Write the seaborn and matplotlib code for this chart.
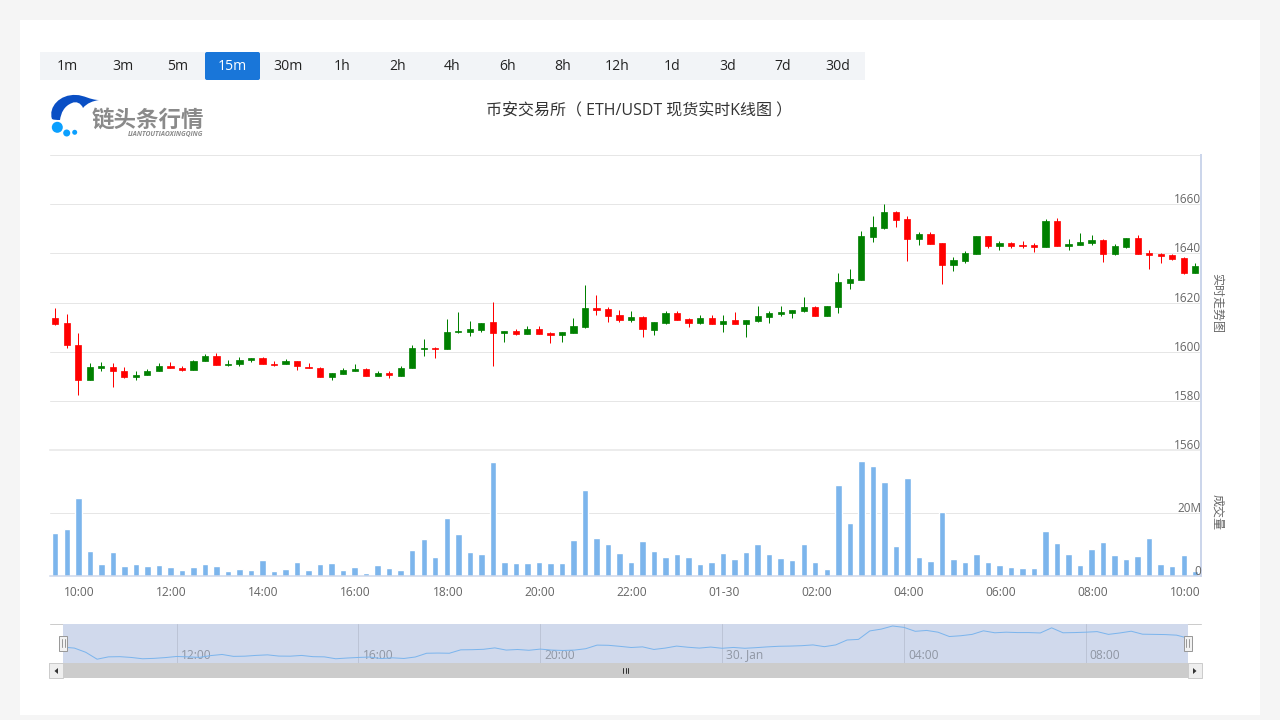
import numpy as np
import pandas as pd
import matplotlib
matplotlib.use('Agg')
import matplotlib.pyplot as plt
from matplotlib.patches import Rectangle, FancyBboxPatch, Circle, PathPatch, Polygon
from matplotlib.path import Path
from matplotlib.transforms import ScaledTranslation
import seaborn as sns

# Interval buttons
intervals = ['1m', '3m', '5m', '15m', '30m', '1h', '2h', '4h', '6h', '8h', '12h', '1d', '3d', '7d', '30d']
active_interval = '15m'

# Candles, 15 min apart
opens = [1613.6, 1611.6, 1603, 1588.8, 1593.6, 1594, 1592.4, 1589.7, 1590.5, 1592.1,
         1594.4, 1593.6, 1592.5, 1596.2, 1598.5, 1594.6, 1595, 1596.6, 1597.7, 1595.2,
         1595, 1596.5, 1594, 1593.6, 1589.7, 1591.2, 1592.4, 1593.2, 1590.1, 1591.6,
         1590.3, 1593.3, 1601, 1601.4, 1601, 1608, 1608.3, 1609.1, 1612, 1607.5,
         1608.7, 1607.1, 1609.5, 1607.5, 1606.7, 1607.5, 1610.3, 1617.7, 1617.3, 1615.2,
         1612.8, 1614.1, 1608.8, 1611.6, 1615.7, 1613.3, 1611.6, 1613.7, 1611.2, 1612.9,
         1611.2, 1612.5, 1614.1, 1615.3, 1615.7, 1616.5, 1618.1, 1614.5, 1618.1, 1628.2,
         1629.4, 1646.8, 1650.5, 1656.9, 1654.1, 1646, 1647.8, 1644.2, 1635.3, 1636.9,
         1639.7, 1647, 1643, 1644.2, 1643.4, 1643.4, 1642.6, 1653.1, 1643, 1643.4,
         1644.2, 1645.4, 1639.7, 1642.6, 1646.2, 1640.1, 1639.7, 1639.3, 1638.1, 1632]
closes = [1611.3, 1602.7, 1588.4, 1594, 1594.1, 1592.1, 1589.7, 1590.7, 1592.4, 1594.4,
          1593.3, 1592.5, 1596.5, 1598.5, 1594.6, 1595.2, 1596.9, 1597.7, 1595, 1594.8,
          1596.5, 1594.1, 1593.3, 1589.7, 1591.6, 1592.8, 1593.2, 1590.1, 1591.6, 1590.5,
          1593.6, 1601.4, 1601.4, 1601, 1608.3, 1608.7, 1609.5, 1611.9, 1607.5, 1608.7,
          1607.1, 1609.5, 1607.1, 1606.7, 1607.9, 1610.7, 1617.7, 1616.9, 1614.8, 1612.8,
          1614, 1609.2, 1612, 1615.7, 1612.9, 1611.6, 1613.7, 1611.2, 1612.5, 1611.2,
          1612.9, 1614.5, 1615.7, 1616.1, 1616.9, 1618.1, 1614.5, 1618.5, 1628.6, 1629.8,
          1647.2, 1650.9, 1656.9, 1653.7, 1646, 1648, 1643.8, 1635.3, 1637.3, 1640.1,
          1647, 1643, 1644.2, 1643, 1643, 1642.6, 1653.1, 1643, 1643.8, 1644.6,
          1645.4, 1639.7, 1643, 1646.2, 1639.7, 1639.3, 1638.9, 1637.7, 1632, 1634.9]
highs = [1617.7, 1615.6, 1607.5, 1595.6, 1596, 1595.6, 1594, 1592.4, 1593.2, 1595.6,
         1596, 1594.4, 1596.9, 1599.3, 1599.7, 1596.9, 1598.1, 1597.7, 1598.1, 1596.5,
         1597.3, 1596.5, 1595.6, 1593.9, 1591.6, 1593.6, 1595.2, 1593.6, 1592.4, 1592.4,
         1594.4, 1603, 1605.4, 1602.2, 1613.2, 1616.1, 1612.4, 1611.9, 1620.1, 1608.7,
         1609.5, 1610.7, 1610.7, 1608.3, 1607.9, 1613.6, 1627.1, 1623, 1618.1, 1616.9,
         1616.5, 1614.5, 1612, 1616.5, 1616.5, 1613.7, 1614.9, 1614.9, 1614.9, 1616.1,
         1612.9, 1618.5, 1616.5, 1618.5, 1616.9, 1622.2, 1618.5, 1618.5, 1631.9, 1633.5,
         1649.2, 1655.3, 1660.2, 1657.3, 1655.3, 1648.8, 1648.6, 1644.2, 1638.5, 1640.9,
         1647, 1647, 1645, 1644.6, 1645, 1644.2, 1653.9, 1654.3, 1645.8, 1648.2,
         1647.4, 1645.8, 1643.8, 1646.2, 1647.4, 1641.3, 1640.1, 1639.7, 1638.5, 1636.1]
lows = [1610.9, 1601.4, 1582.7, 1588.8, 1592.4, 1585.6, 1589.3, 1588.8, 1590.5, 1592.1,
        1593.3, 1592.4, 1592.5, 1596.2, 1594.6, 1594.4, 1594.4, 1595.8, 1595, 1594.4,
        1595, 1592.5, 1593.3, 1589.7, 1588.8, 1591.2, 1592.4, 1590.1, 1590.1, 1589.3,
        1590.1, 1593.3, 1598.5, 1597.7, 1601, 1607.5, 1606.3, 1607.9, 1594.4, 1604.2,
        1606.7, 1607.1, 1607.1, 1603.8, 1604.2, 1607.5, 1609.9, 1615.2, 1612, 1612,
        1612, 1606, 1606.8, 1611.2, 1612.9, 1610, 1611.2, 1611.2, 1608, 1611.2,
        1606, 1612, 1611.6, 1614.5, 1613.7, 1616.1, 1614.5, 1614.5, 1615.7, 1625.4,
        1629.4, 1644.8, 1650.1, 1650.9, 1637.1, 1643.6, 1643.8, 1627.6, 1632.9, 1636.1,
        1639.7, 1642.2, 1641.3, 1642.2, 1642.2, 1640.5, 1642.6, 1643, 1641.3, 1643.4,
        1643.4, 1636.5, 1639.3, 1642.2, 1639.7, 1633.7, 1636.1, 1637.3, 1631.6, 1632]
# Volume in millions
volumes = [13.7, 15, 24.9, 8, 3.8, 7.7, 3.2, 3.8, 3.2, 3.5,
           2.9, 1.9, 2.9, 3.8, 3.2, 1.6, 2.2, 1.9, 5.1, 1.6,
           2.2, 4.5, 1.9, 3.8, 4.1, 1.9, 2.9, 1, 3.5, 2.6,
           1.9, 8.3, 11.8, 6.1, 18.5, 13.4, 7.7, 7, 36.4, 4.5,
           4.1, 4.1, 4.5, 4.1, 4.1, 11.5, 27.4, 12.1, 10.2, 7.3,
           4.5, 11.2, 8, 6.1, 7, 6.1, 3.8, 4.5, 7.3, 5.4,
           7.7, 10.2, 7, 5.7, 5.1, 10.2, 4.5, 2.2, 29, 16.9,
           36.7, 35.1, 30, 9.6, 31.3, 6.1, 4.8, 20.4, 5.4, 4.5,
           7, 4.5, 3.5, 2.9, 2.6, 2.6, 14.4, 10.5, 7, 3.5,
           8.6, 10.9, 6.7, 5.4, 6.4, 12.1, 3.8, 3.2, 6.7, 1.6]

time_ticks = [2, 10, 18, 26, 34, 42, 50, 58, 66, 74, 82, 90, 98]
time_labels = ['10:00', '12:00', '14:00', '16:00', '18:00', '20:00', '22:00', '01-30',
               '02:00', '04:00', '06:00', '08:00', '10:00']
price_ticks = [1560, 1580, 1600, 1620, 1640, 1660, 1680]
price_labels = ['1560', '1580', '1600', '1620', '1640', '1660', '']
volume_ticks = [0, 20]
volume_labels = ['0', '20M']
nav_ticks = [10, 26, 42, 58, 74, 90]
nav_labels = ['12:00', '16:00', '20:00', '30. Jan', '04:00', '08:00']

df = pd.DataFrame({'open': opens, 'close': closes, 'high': highs, 'low': lows, 'volume': volumes})
df['idx'] = df.index
df['color'] = np.where(df['close'] >= df['open'], '#008000', '#ff0000')

sns.set_theme(style='white')
plt.rcParams['font.family'] = ['Open Sans', 'Noto Sans CJK SC']
PX = 0.72  # points per pixel at dpi 100
AXIS = '#ccd6eb'
GRID = '#e6e6e6'

fig = plt.figure(figsize=(12.8, 7.2), dpi=100, facecolor='#f5f5f5')


def px_axes(left, top, right, bottom, **kw):
    return fig.add_axes([left / 1280, 1 - bottom / 720, (right - left) / 1280, (bottom - top) / 720], **kw)


def shift_labels(labels, dx, dy):
    for lab in labels:
        lab.set_transform(lab.get_transform() + ScaledTranslation(dx * PX / 72, dy * PX / 72, fig.dpi_scale_trans))


# Page furniture in pixel coordinates
page = px_axes(0, 0, 1280, 720, zorder=-1)
page.set_xlim(0, 1280)
page.set_ylim(720, 0)
page.axis('off')
page.add_patch(Rectangle((20, 20), 1240, 695, fc='white', ec='none'))
page.add_patch(Rectangle((40, 52), 825, 28, fc='#f2f4f7', ec='none'))
for i, name in enumerate(intervals):
    x = 40 + 55 * i
    on = name == active_interval
    if on:
        page.add_patch(FancyBboxPatch((x + 1, 53), 53, 26, boxstyle='round,pad=1,rounding_size=2', fc='#1976d9', ec='none'))
    page.text(x + 27.5, 67, name, ha='center', va='center', fontsize=14 * PX, color='white' if on else '#222222')

# Logo
whale = Path([(52, 119),
              (48, 107), (60, 94), (76, 95),
              (84, 95), (90, 100), (99, 100),
              (93, 101), (87, 103), (83, 108),
              (81, 103), (76, 101), (72, 103),
              (64, 106), (61, 113), (60, 120),
              (57, 120), (54, 120), (52, 119)],
             [Path.MOVETO] + [Path.CURVE4] * 18)
page.add_patch(PathPatch(whale, fc='#0a4fc4', ec='none'))
page.add_patch(Circle((57.3, 127.3), 5.5, fc='#0ba0ff', ec='none'))
page.add_patch(Circle((66.7, 133), 3.5, fc='#0ba0ff', ec='none'))
page.add_patch(Circle((74.7, 132.3), 2.5, fc='#0ba0ff', ec='none'))
page.text(147.5, 120.5, '链头条行情', ha='center', va='center', fontsize=22.5 * PX, fontweight='bold', color='#8a8a8a')
page.text(166, 134.5, 'LIANTOUTIAOXINGQING', ha='center', va='center', fontsize=6.8 * PX, fontweight='bold',
          fontstyle='italic', color='#8a8a8a')

page.text(639, 111, '币安交易所（ ETH/USDT 现货实时K线图 ）', ha='center', va='center', fontsize=16 * PX,
          color='#333333', family=['Open Sans', 'Noto Sans CJK TC'])
page.text(1217, 303, '实时走势图', rotation=-90, ha='center', va='center', fontsize=12 * PX, color='#666666')
page.text(1217, 512, '成交量', rotation=-90, ha='center', va='center', fontsize=12 * PX, color='#666666')

# Candles
ax = px_axes(49.5, 155, 1201, 450.4)
ax.patch.set_alpha(0)
ax.vlines(df['idx'], df['low'], df['high'], colors=df['color'], lw=1 * PX, zorder=3, snap=True)
ax.bar(df['idx'], (df['close'] - df['open']).abs(), bottom=df[['open', 'close']].min(axis=1),
       width=0.54, color=df['color'], edgecolor=df['color'], lw=0.7 * PX, zorder=3)
ax.set_xlim(-0.5, 99.5)
ax.set_ylim(1560, 1680)
ax.set_xticks([])
ax.yaxis.tick_right()
ax.set_yticks(price_ticks, price_labels)
ax.grid(axis='y', color=GRID, lw=1 * PX)
ax.tick_params(axis='y', length=0, pad=0, labelsize=11.8 * PX, labelcolor='#666666')
for lab in ax.get_yticklabels():
    lab.set_ha('right')
shift_labels(ax.get_yticklabels(), 0.5, 6)
sns.despine(ax=ax, top=True, left=True, bottom=False, right=False)
ax.spines['right'].set(color=AXIS, lw=2 * PX)
ax.spines['bottom'].set(color=GRID, lw=1.5 * PX)

# Volume
vol = px_axes(49.5, 450.4, 1201, 576)
vol.patch.set_alpha(0)
sns.barplot(data=df, x='idx', y='volume', ax=vol, color='#7cb5ec', saturation=1, width=0.56, errorbar=None, zorder=2)
vol.axhline(volume_ticks[1], color=GRID, lw=1 * PX, zorder=1)
vol.set_xlim(-0.5, 99.5)
vol.set_ylim(0, 40)
vol.set_xlabel('')
vol.set_ylabel('')
vol.set_xticks(time_ticks, time_labels)
vol.yaxis.tick_right()
vol.set_yticks(volume_ticks, volume_labels)
vol.set_axisbelow(False)
vol.tick_params(axis='y', length=0, pad=0, labelsize=11.8 * PX, labelcolor='#666666')
vol.tick_params(axis='x', length=10 * PX, width=1 * PX, color=AXIS, pad=0, labelsize=12 * PX, labelcolor='#666666')
for lab in vol.get_yticklabels():
    lab.set_ha('right')
shift_labels(vol.get_yticklabels(), 0.5, 6)
shift_labels(vol.get_xticklabels()[:-1], 1, 0)
shift_labels(vol.get_xticklabels()[-1:], 2, 0)
sns.despine(ax=vol, top=True, left=True, bottom=False, right=False)
vol.spines['right'].set(color=AXIS, lw=2 * PX)
vol.spines['bottom'].set(color=AXIS, lw=1.5 * PX)

# Navigator
page.plot([50, 1201], [623.5, 623.5], color='#cccccc', lw=1 * PX)
nav = px_axes(63, 624, 1188, 663)
nav.set_facecolor('#d0d9ec')
sns.lineplot(data=df, x='idx', y='open', ax=nav, color='#7cb5ec', lw=1 * PX, errorbar=None)
nav.set_xlim(0, 99)
nav.set_ylim(1581, 1661)
nav.set_xlabel('')
nav.set_ylabel('')
nav.set_yticks([])
nav.set_xticks(nav_ticks, nav_labels)
nav.grid(axis='x', color='#bcc4d6', lw=1 * PX)
nav.tick_params(axis='x', length=0, pad=-10.4, labelsize=12 * PX, labelcolor='#8f96a3')
for lab in nav.get_xticklabels():
    lab.set_ha('left')
shift_labels(nav.get_xticklabels(), 4, 0)
for side in nav.spines.values():
    side.set_visible(False)

# Handles and scrollbar sit on top
top = px_axes(0, 0, 1280, 720, zorder=10)
top.set_xlim(0, 1280)
top.set_ylim(720, 0)
top.axis('off')
top.add_patch(Rectangle((49, 663), 1153, 15, fc='#cccccc', ec='none'))
for x in (49, 1188):
    top.add_patch(Rectangle((x, 663), 14, 15, fc='#eeeeee', ec='#cccccc', lw=1 * PX))
top.add_patch(Polygon([(58, 668), (58, 674), (54.5, 671)], fc='#333333', ec='none'))
top.add_patch(Polygon([(1193, 668), (1193, 674), (1196.5, 671)], fc='#333333', ec='none'))
for x in (623, 625.5, 628):
    top.plot([x, x], [668, 673], color='#333333', lw=1 * PX)
for x in (63.3, 1187.5):
    top.add_patch(Rectangle((x - 4, 635.5), 8, 15, fc='#f2f2f2', ec='#999999', lw=1 * PX))
    for dx in (-1.2, 1.2):
        top.plot([x + dx, x + dx], [639, 647], color='#999999', lw=1 * PX)

plt.savefig('out.png', dpi=100)
plt.close()
